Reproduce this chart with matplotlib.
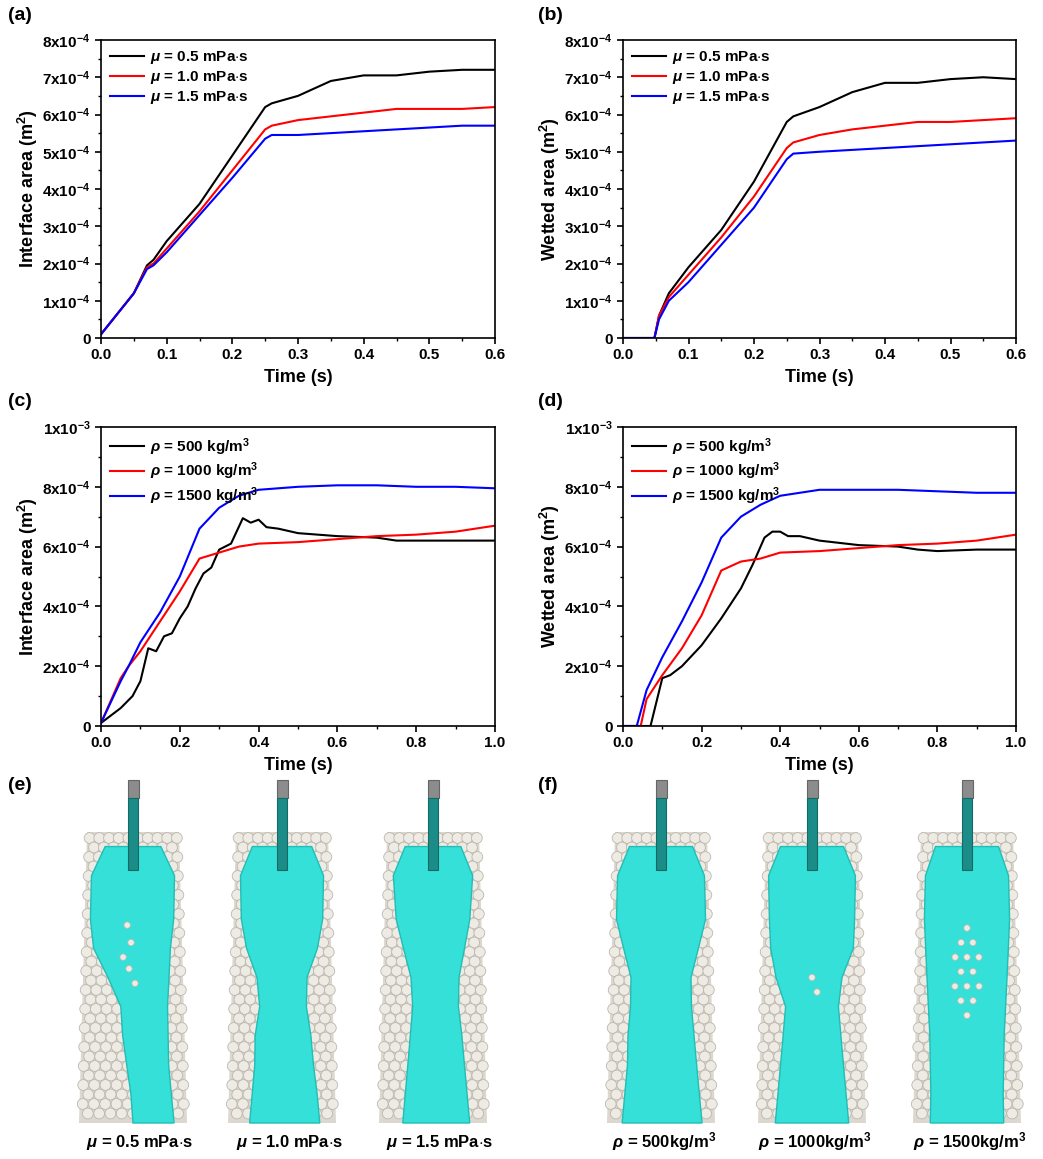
import numpy as np
import matplotlib
matplotlib.use('Agg')
import matplotlib.pyplot as plt
from matplotlib.patches import Polygon, Circle, Rectangle
from matplotlib.ticker import AutoMinorLocator

plt.rcParams['font.family'] = ['Liberation Sans', 'DejaVu Sans']
plt.rcParams['font.weight'] = 'bold'
plt.rcParams['mathtext.fontset'] = 'custom'
plt.rcParams['mathtext.rm'] = 'Liberation Sans:bold'
plt.rcParams['mathtext.it'] = 'Liberation Sans:bold:italic'
plt.rcParams['mathtext.bf'] = 'Liberation Sans:bold'

# ---- data (areas in 1e-4 m^2) ----
ta_blk = [0, .05, .07, .08, .1, .15, .2, .25, .26, .3, .35, .4, .45, .5, .55, .6]
a_blk = [0.1, 1.2, 1.95, 2.1, 2.6, 3.6, 4.9, 6.2, 6.3, 6.5, 6.9, 7.05, 7.05, 7.15, 7.2, 7.2]
a_red = [0.1, 1.2, 1.9, 2.0, 2.4, 3.4, 4.5, 5.6, 5.7, 5.85, 5.95, 6.05, 6.15, 6.15, 6.15, 6.2]
a_blu = [0.1, 1.2, 1.85, 1.95, 2.3, 3.3, 4.3, 5.35, 5.45, 5.45, 5.5, 5.55, 5.6, 5.65, 5.7, 5.7]

tb = [0, .048, .055, .07, .1, .15, .2, .25, .26, .3, .35, .4, .45, .5, .55, .6]
b_blk = [0, 0, 0.6, 1.2, 1.9, 2.9, 4.2, 5.8, 5.95, 6.2, 6.6, 6.85, 6.85, 6.95, 7.0, 6.95]
b_red = [0, 0, 0.6, 1.1, 1.7, 2.7, 3.8, 5.1, 5.25, 5.45, 5.6, 5.7, 5.8, 5.8, 5.85, 5.9]
b_blu = [0, 0, 0.5, 1.0, 1.5, 2.5, 3.5, 4.8, 4.95, 5.0, 5.05, 5.1, 5.15, 5.2, 5.25, 5.3]

tc_blk = [0, .05, .08, .1, .12, .14, .16, .18, .2, .22, .24, .26, .28, .3, .33, .36, .38, .4, .42, .45, .5, .6, .7, .75, .8, 1.0]
c_blk = [0.1, 0.6, 1.0, 1.5, 2.6, 2.5, 3.0, 3.1, 3.6, 4.0, 4.6, 5.1, 5.3, 5.9, 6.1, 6.95, 6.8, 6.9, 6.65, 6.6, 6.45, 6.35, 6.3, 6.2, 6.2, 6.2]
tc = [0, .05, .07, .1, .15, .2, .25, .3, .35, .4, .5, .6, .7, .8, .9, 1.0]
c_red = [0.1, 1.6, 2.0, 2.5, 3.5, 4.5, 5.6, 5.8, 6.0, 6.1, 6.15, 6.25, 6.35, 6.4, 6.5, 6.7]
c_blu = [0.1, 1.5, 2.0, 2.8, 3.8, 5.0, 6.6, 7.3, 7.7, 7.9, 8.0, 8.05, 8.05, 8.0, 8.0, 7.95]

td_blk = [0, .07, .1, .12, .15, .2, .25, .3, .33, .36, .38, .4, .42, .45, .5, .6, .7, .75, .8, .9, 1.0]
d_blk = [0, 0, 1.6, 1.7, 2.0, 2.7, 3.6, 4.6, 5.4, 6.3, 6.5, 6.5, 6.35, 6.35, 6.2, 6.05, 6.0, 5.9, 5.85, 5.9, 5.9]
td_red = [0, .045, .06, .1, .15, .2, .25, .3, .35, .4, .5, .6, .7, .8, .9, 1.0]
d_red = [0, 0, 0.9, 1.7, 2.6, 3.7, 5.2, 5.5, 5.6, 5.8, 5.85, 5.95, 6.05, 6.1, 6.2, 6.4]
td_blu = [0, .035, .06, .1, .15, .2, .25, .3, .35, .4, .5, .6, .7, .8, .9, 1.0]
d_blu = [0, 0, 1.2, 2.3, 3.5, 4.8, 6.3, 7.0, 7.4, 7.7, 7.9, 7.9, 7.9, 7.85, 7.8, 7.8]

mu_labels = [r'$\mu$ = 0.5 mPa$\cdot$s', r'$\mu$ = 1.0 mPa$\cdot$s', r'$\mu$ = 1.5 mPa$\cdot$s']
rho_labels = [r'$\rho$ = 500 kg/m$^3$', r'$\rho$ = 1000 kg/m$^3$', r'$\rho$ = 1500 kg/m$^3$']
bottom_labels = [r'$\mu$ = 0.5 mPa$\cdot$s', r'$\mu$ = 1.0 mPa$\cdot$s', r'$\mu$ = 1.5 mPa$\cdot$s',
                 r'$\rho$ = 500kg/m$^3$', r'$\rho$ = 1000kg/m$^3$', r'$\rho$ = 1500kg/m$^3$']

# fluid edges (fraction of tray width, left / right) at heights 0.05..1.0
prof_h = [.05, .15, .3, .4, .5, .6, .7, .8, .9, 1.0]
prof_left = [
    [-.30, -.44, -.44, -.40, -.25, -.12, -.10, -.06, -.02, .00],
    [-.32, -.44, -.42, -.36, -.25, -.22, -.26, -.26, -.28, -.30],
    [-.30, -.42, -.38, -.30, -.22, -.20, -.22, -.24, -.26, -.28],
    [-.34, -.46, -.46, -.38, -.30, -.30, -.32, -.32, -.34, -.36],
    [-.34, -.46, -.44, -.42, -.36, -.26, -.28, -.30, -.32, -.34],
    [-.34, -.44, -.44, -.42, -.40, -.38, -.36, -.35, -.34, -.34],
]
prof_right = [
    [.30, .44, .42, .38, .36, .34, .34, .34, .36, .38],
    [.32, .44, .42, .36, .25, .24, .28, .30, .33, .35],
    [.30, .42, .38, .32, .26, .25, .28, .30, .32, .34],
    [.34, .46, .46, .38, .30, .30, .32, .34, .36, .38],
    [.34, .46, .44, .42, .30, .26, .28, .30, .32, .34],
    [.34, .44, .44, .42, .40, .38, .36, .35, .34, .34],
]
# dry spots inside the fluid (f, h)
holes = [
    [(-.06, .32), (-.02, .38), (-.1, .43), (-.04, .47), (.02, .52)],
    [],
    [],
    [],
    [(.0, .5), (.05, .55)],
    [(.0, .33), (-.06, .38), (.06, .38), (-.12, .43), (0, .43), (.12, .43), (-.06, .48), (.06, .48),
     (-.12, .53), (0, .53), (.12, .53), (-.06, .58), (.06, .58), (0, .63)],
]
tray_cx = [133, 282, 433, 661, 812, 967]
label_cx = [140, 290, 440, 664, 815, 970]

W, H = 1043, 1159
fig = plt.figure(figsize=(W / 100, H / 100), dpi=100)

def px_axes(x0, y0, x1, y1):
    return fig.add_axes([x0 / W, 1 - y1 / H, (x1 - x0) / W, (y1 - y0) / H])

def style(ax, xmax, ymax, ylabels, ylabel, xstep):
    ax.set_xlim(0, xmax)
    ax.set_ylim(0, ymax)
    ax.set_yticks(np.linspace(0, ymax, len(ylabels)))
    ax.set_yticklabels(ylabels)
    xt = np.arange(0, xmax + 1e-9, xstep)
    ax.set_xticks(xt)
    ax.set_xticklabels(['%.1f' % v for v in xt])
    ax.xaxis.set_minor_locator(AutoMinorLocator(2))
    ax.yaxis.set_minor_locator(AutoMinorLocator(2))
    ax.tick_params(labelsize=11, width=1.2, length=4)
    ax.tick_params(which='minor', width=1.0, length=2.5)
    for s in ax.spines.values():
        s.set_linewidth(1.2)
    ax.set_xlabel('Time (s)', fontsize=13, fontweight='bold', labelpad=5)
    ax.set_ylabel(ylabel, fontsize=13, fontweight='bold', labelpad=2)

def leg(ax):
    ax.legend(frameon=False, loc='upper left', handlelength=2.2, handletextpad=0.4,
              borderaxespad=0.2, labelspacing=0.2, prop={'weight': 'bold', 'size': 11})

lab8 = ['0'] + [r'$\mathregular{%dx10^{-4}}$' % i for i in range(1, 9)]
lab10 = ['0'] + [r'$\mathregular{%dx10^{-4}}$' % i for i in (2, 4, 6, 8)] + [r'$\mathregular{1x10^{-3}}$']

axa = px_axes(101, 40, 495, 338)
axa.plot(ta_blk, a_blk, 'k', lw=1.5, label=mu_labels[0])
axa.plot(ta_blk, a_red, 'r', lw=1.5, label=mu_labels[1])
axa.plot(ta_blk, a_blu, 'b', lw=1.5, label=mu_labels[2])
style(axa, 0.6, 8, lab8, r'Interface area (m$^2$)', 0.1)
leg(axa)

axb = px_axes(623, 40, 1016, 338)
axb.plot(tb, b_blk, 'k', lw=1.5, label=mu_labels[0])
axb.plot(tb, b_red, 'r', lw=1.5, label=mu_labels[1])
axb.plot(tb, b_blu, 'b', lw=1.5, label=mu_labels[2])
style(axb, 0.6, 8, lab8, r'Wetted area (m$^2$)', 0.1)
leg(axb)

axc = px_axes(101, 427, 495, 726)
axc.plot(tc_blk, c_blk, 'k', lw=1.5, label=rho_labels[0])
axc.plot(tc, c_red, 'r', lw=1.5, label=rho_labels[1])
axc.plot(tc, c_blu, 'b', lw=1.5, label=rho_labels[2])
style(axc, 1.0, 10, lab10, r'Interface area (m$^2$)', 0.2)
leg(axc)

axd = px_axes(623, 427, 1016, 726)
axd.plot(td_blk, d_blk, 'k', lw=1.5, label=rho_labels[0])
axd.plot(td_red, d_red, 'r', lw=1.5, label=rho_labels[1])
axd.plot(td_blu, d_blu, 'b', lw=1.5, label=rho_labels[2])
style(axd, 1.0, 10, lab10, r'Wetted area (m$^2$)', 0.2)
leg(axd)

for lab, x, y in [('(a)', 8, 16), ('(b)', 538, 16), ('(c)', 8, 402), ('(d)', 538, 402),
                  ('(e)', 8, 785), ('(f)', 538, 785)]:
    fig.text(x / W, 1 - y / H, lab, fontsize=14, fontweight='bold', va='center')

# ---- illustrations ----
ill = px_axes(0, 775, W, H)
ill.set_xlim(0, W)
ill.set_ylim(H, 775)
ill.axis('off')
top_y, bot_y = 832, 1123
for k, cx in enumerate(tray_cx):
    def xat(f, y):
        hw = 46 + (y - top_y) / (bot_y - top_y) * 8
        return cx + f * 2 * hw
    tray = [(xat(-.5, top_y), top_y), (xat(.5, top_y), top_y), (xat(.5, bot_y), bot_y), (xat(-.5, bot_y), bot_y)]
    ill.add_patch(Polygon(tray, closed=True, fc='#dcd8d0', ec='none', zorder=1))
    y = top_y + 6
    row = 0
    while y < bot_y - 4:
        f = -0.47 + (0.05 if row % 2 else 0.0)
        while f <= 0.48:
            ill.add_patch(Circle((xat(f, y), y), 5.4, fc='#eeebe4', ec='#bdb8ae', lw=0.6, zorder=2))
            f += 0.105
        y += 9.5
        row += 1
    ys = [top_y + h * (bot_y - top_y) for h in prof_h]
    right = [(xat(p, yy), yy) for p, yy in zip(prof_right[k], ys)]
    left = [(xat(p, yy), yy) for p, yy in zip(prof_left[k], ys)][::-1]
    ill.add_patch(Polygon(right + left, closed=True, fc='#34e0d8', ec='#22bdb5', lw=1.0, zorder=3))
    for f, h in holes[k]:
        yy = top_y + h * (bot_y - top_y)
        ill.add_patch(Circle((xat(f, yy), yy), 3.2, fc='#eeebe4', ec='#bdb8ae', lw=0.5, zorder=3.5))
    ill.add_patch(Rectangle((cx - 5.5, 780), 11, 18, fc='#8c8c8c', ec='#666666', lw=0.8, zorder=4))
    ill.add_patch(Rectangle((cx - 5, 798), 10, 72, fc='#1c8c88', ec='#156a66', lw=0.8, zorder=4))
    ill.text(label_cx[k], 1142, bottom_labels[k], fontsize=12, fontweight='bold', ha='center', va='center')

fig.savefig('out.png', dpi=100)
